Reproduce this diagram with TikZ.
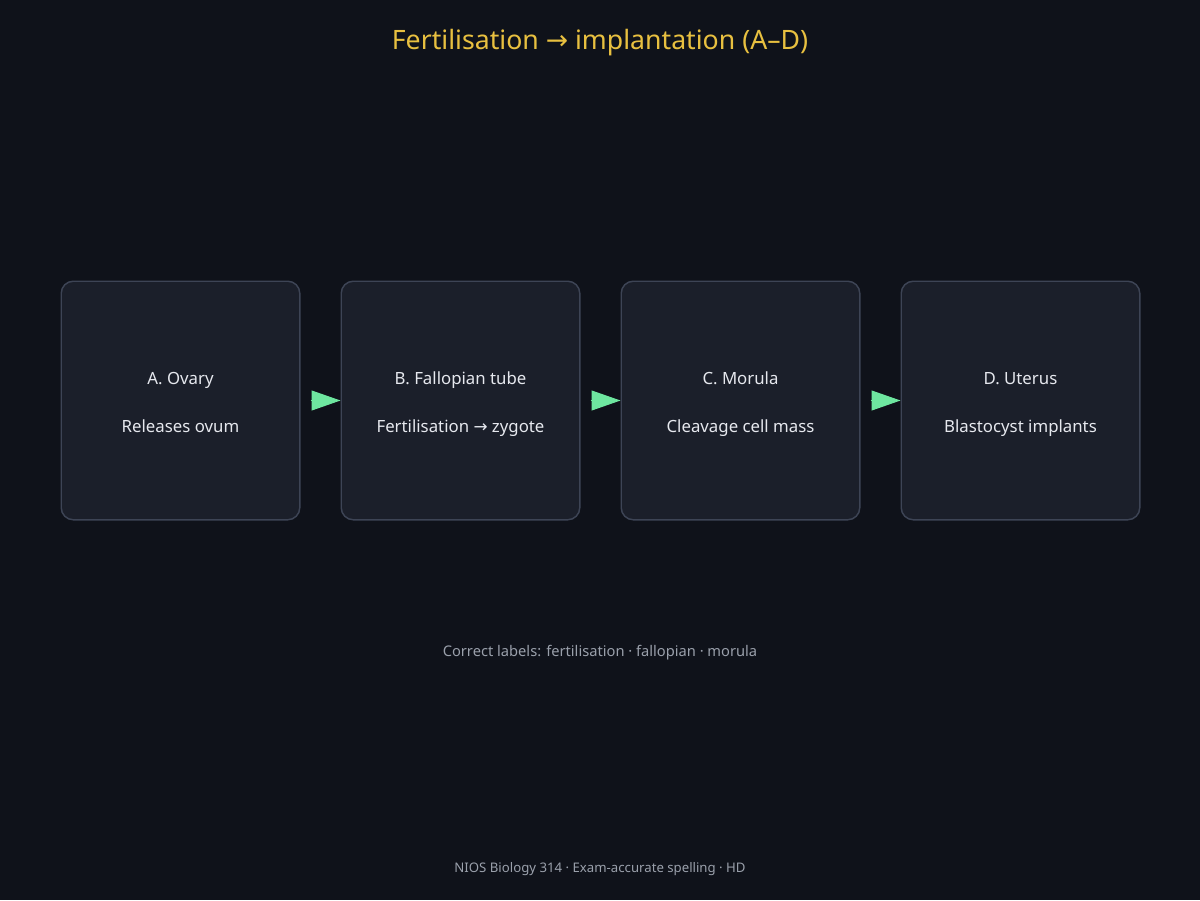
\documentclass[tikz,border=0pt]{standalone}
\usepackage{fontspec}
\setmainfont{Noto Sans}
\newfontfamily\arrowfont{DejaVu Sans}
\newcommand{\rarr}{{\arrowfont →}}
\usepackage{xcolor}
\usetikzlibrary{arrows.meta}
\definecolor{bgcol}{HTML}{0F121A}
\definecolor{boxfill}{HTML}{1B1F2A}
\definecolor{boxline}{HTML}{3D4455}
\definecolor{boxtext}{HTML}{E6E8EE}
\definecolor{titlecol}{HTML}{E8C040}
\definecolor{flowcol}{HTML}{6EE7A0}
\definecolor{notecol}{HTML}{9AA0AB}
% 1px = 0.75pt
\tikzset{
    stage/.style={draw=boxline, fill=boxfill, line width=1.1pt, rounded corners=9pt,
        minimum width=178.9pt, minimum height=178.9pt, inner sep=0pt},
    stagetext/.style={text=boxtext, anchor=base, inner sep=0pt, font=\fontsize{12.6pt}{16pt}\selectfont},
    flow/.style={draw=flowcol, line width=0.75pt, shorten <=7.5pt,
        -{Triangle[length=21.75pt,width=15pt,fill=flowcol]}}
}
\begin{document}
\begin{tikzpicture}[x=0.75pt,y=-0.75pt]
\useasboundingbox (0,0) rectangle (1200,900);
\fill[bgcol] (0,0) rectangle (1200,900);
\node[text=titlecol, font=\fontsize{20pt}{24pt}\selectfont] (title) at (600,43) {Fertilisation \rarr{} implantation (A–D)};
\foreach \x/\n/\top/\sub in {180.5/A/{A. Ovary}/{Releases ovum}, 460.5/B/{B. Fallopian tube}/{Fertilisation \rarr{} zygote}, 740.5/C/{C. Morula}/{Cleavage cell mass}, 1020.5/D/{D. Uterus}/{Blastocyst implants}}{
    \node[stage] (\n) at (\x,400.5) {};
    \node[stagetext] (\n-name) at (\x,384.5) {\top};
    \node[stagetext] (\n-note) at (\x,432) {\sub};
}
\foreach \a/\b in {A/B, B/C, C/D}
    \draw[flow] (\a) -- (\b);
\node[text=notecol, font=\fontsize{11pt}{13pt}\selectfont] (note) at (600,653) {Correct labels: fertilisation · fallopian · morula};
\node[text=notecol, font=\fontsize{9.9pt}{12pt}\selectfont] (footer) at (600,869) {NIOS Biology 314 · Exam-accurate spelling · HD};
\end{tikzpicture}
\end{document}
